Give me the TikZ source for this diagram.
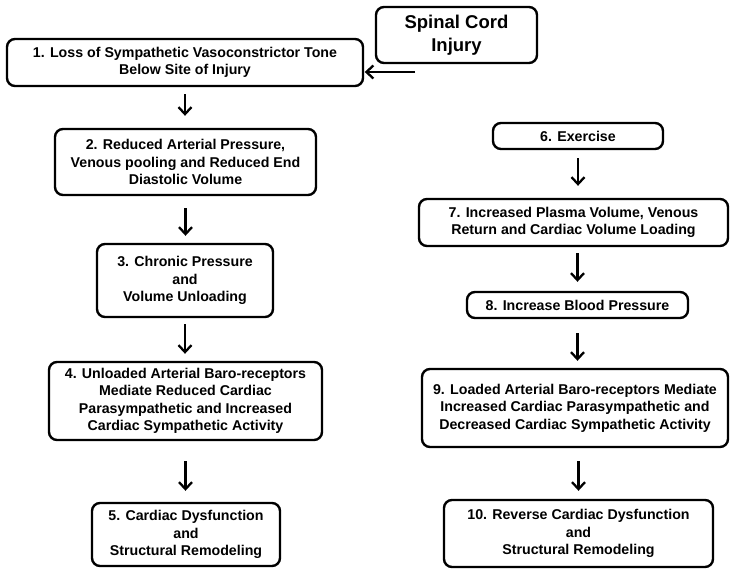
\documentclass[tikz,border=0pt]{standalone}
\usepackage{fontspec}
\setmainfont{Liberation Sans}
\usetikzlibrary{arrows.meta}
\begin{document}
\begin{tikzpicture}[x=1pt,y=-1pt,
  box/.style={draw=black, line width=2.4pt, rounded corners=8pt, fill=white,
    align=center, inner sep=0pt,
    font=\fontsize{14.2}{17.5}\selectfont\bfseries},
  arr/.style={line width=2.3pt, -{Straight Barb[length=7pt,width=13pt,line width=2.3pt]}}]
\useasboundingbox (0,0) rectangle (730,569);
% left column
\node[box, minimum width=161pt, minimum height=56pt, font=\fontsize{18.5}{23}\selectfont\bfseries] (s) at (456.5,35) {Spinal Cord\\Injury};
\node[box, minimum width=356pt, minimum height=47pt] (b1) at (185,62.5) {1. Loss of Sympathetic Vasoconstrictor Tone\\Below Site of Injury};
\node[box, minimum width=261pt, minimum height=66pt] (b2) at (185.5,162) {2. Reduced Arterial Pressure,\\Venous pooling and Reduced End\\Diastolic Volume};
\node[box, minimum width=176pt, minimum height=73pt] (b3) at (185,280.5) {3. Chronic Pressure\\and\\Volume Unloading};
\node[box, minimum width=273pt, minimum height=78pt] (b4) at (185.5,401) {4. Unloaded Arterial Baro-receptors\\Mediate Reduced Cardiac\\Parasympathetic and Increased\\Cardiac Sympathetic Activity};
\node[box, minimum width=188pt, minimum height=63pt] (b5) at (186,534.5) {5. Cardiac Dysfunction\\and\\Structural Remodeling};
% right column
\node[box, minimum width=170pt, minimum height=26pt] (b6) at (578,136) {6. Exercise};
\node[box, minimum width=309pt, minimum height=47pt] (b7) at (573.5,222.5) {7. Increased Plasma Volume, Venous\\Return and Cardiac Volume Loading};
\node[box, minimum width=221pt, minimum height=26pt] (b8) at (577.5,305) {8. Increase Blood Pressure};
\node[box, minimum width=306pt, minimum height=78pt] (b9) at (575,408) {9. Loaded Arterial Baro-receptors Mediate\\Increased Cardiac Parasympathetic and\\Decreased Cardiac Sympathetic Activity};
\node[box, minimum width=269pt, minimum height=67pt] (b10) at (578.5,533.5) {10. Reverse Cardiac Dysfunction\\and\\Structural Remodeling};
% connectors
\coordinate (sa) at (415,72);
\draw[arr, shorten >=0.5pt] (sa) -- (sa -| b1.east);
\draw[arr, shorten <=7pt, shorten >=12pt] (b1.south) -- (b1.south |- b2.north);
\draw[arr, shorten <=12pt, shorten >=7pt] (b2.south) -- (b2.south |- b3.north);
\draw[arr, shorten <=6pt, shorten >=7pt] (b3.south) -- (b3.south |- b4.north);
\draw[arr, shorten <=20pt, shorten >=11pt] (b4.south) -- (b4.south |- b5.north);
\draw[arr, shorten <=8pt, shorten >=12pt] (b6.south) -- (b6.south |- b7.north);
\draw[arr, shorten <=6pt, shorten >=9pt] (b8.north |- b7.south) -- (b8.north);
\draw[arr, shorten <=14pt, shorten >=7pt] (b8.south) -- (b8.south |- b9.north);
\draw[arr, shorten <=13pt, shorten >=8pt] (b10.north |- b9.south) -- (b10.north);
\end{tikzpicture}
\end{document}
